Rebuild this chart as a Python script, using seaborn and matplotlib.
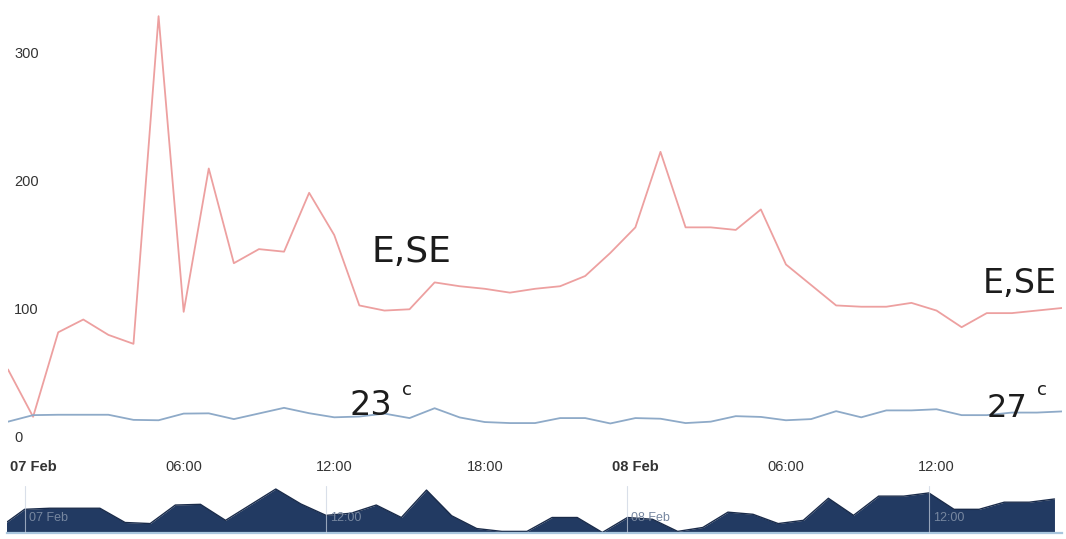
import matplotlib
matplotlib.use("Agg")
import matplotlib.pyplot as plt  # type: ignore
import matplotlib.transforms as mtransforms
import seaborn as sns  # type: ignore
import pandas as pd  # type: ignore

# hours relative to 07 Feb 00:00 (06 Feb 23:00 -> 08 Feb 17:00)
hours = list(range(-1, 42))

wind_direction = [52, 15, 81, 91, 79, 72, 328, 97, 209, 135, 146, 144, 190, 157,
                  102, 98, 99, 120, 117, 115, 112, 115, 117, 125, 143, 163, 222,
                  163, 163, 161, 177, 134, 118, 102, 101, 101, 104, 98, 85, 96,
                  96, 98, 100]

temperature = [11.2, 16.3, 16.6, 16.6, 16.6, 12.6, 12.3, 17.5, 17.7, 13.2, 17.6,
               22.0, 17.8, 14.6, 15.2, 17.5, 14.0, 21.7, 14.5, 10.9, 10.1, 10.1,
               14.0, 14.0, 9.8, 14.0, 13.5, 10.1, 11.2, 15.5, 14.9, 12.3, 13.2,
               19.4, 14.6, 20.0, 20.0, 20.9, 16.3, 16.3, 18.3, 18.3, 19.2]

x_ticks = [0, 6, 12, 18, 24, 30, 36]
x_labels = ["07 Feb", "06:00", "12:00", "18:00", "08 Feb", "06:00", "12:00"]
y_ticks = [0, 100, 200, 300]

nav_ticks = [0, 12, 24, 36]
nav_labels = ["07 Feb", "12:00", "08 Feb", "12:00"]

df = pd.DataFrame({"hour": hours, "wind": wind_direction, "temp": temperature})

sns.set_theme(style="white")
plt.rcParams["font.family"] = ["Liberation Sans", "DejaVu Sans"]

W, H = 1066, 539
fig = plt.figure(figsize=(W / 100, H / 100), dpi=100, facecolor="white")

# ---------------- main chart ----------------
ax = fig.add_axes([8 / W, 1 - 436 / H, (1062 - 8) / W, 436 / H])
sns.lineplot(data=df, x="hour", y="wind", ax=ax, color="#eda0a0", linewidth=1.3)
sns.lineplot(data=df, x="hour", y="temp", ax=ax, color="#8eaac8", linewidth=1.3)
ax.set_xlim(-1, 41)
ax.set_ylim(0, 436 / 1.28)
ax.set_xlabel("")
ax.set_ylabel("")
for s in ax.spines.values():
    s.set_visible(False)

ax.set_yticks(y_ticks)
ax.set_yticklabels([str(v) for v in y_ticks])
ax.tick_params(axis="y", length=0, pad=-4.5, labelsize=10.5, labelcolor="#333333")
for lab in ax.get_yticklabels():
    lab.set_ha("left")

ax.set_xticks(x_ticks)
ax.set_xticklabels(x_labels)
ax.tick_params(axis="x", length=0, pad=17, labelsize=10.5, labelcolor="#333333")
for lab in ax.get_xticklabels():
    if "Feb" in lab.get_text():
        lab.set_fontweight("bold")

# handwritten notes on the printout
hand = dict(color="#1c1c1c", family="DejaVu Sans", va="baseline", ha="left")
ax.text(13.5, 136, "E,SE", fontsize=26, **hand)
ax.text(37.85, 112, "E,SE", fontsize=24, **hand)
ax.text(12.6, 16.5, "23", fontsize=24, **hand)
ax.text(14.7, 32, "c", fontsize=13, **hand)
ax.text(38.0, 15.0, "27", fontsize=23, **hand)
ax.text(40.0, 32, "c", fontsize=13, **hand)

# ---------------- navigator ----------------
nav = fig.add_axes([7 / W, 1 - 533 / H, 1055 / W, 47 / H])
lo = min(temperature) - 0.15
hi = max(temperature) + 0.85
nav.fill_between(hours, temperature, lo, color="#223a62", linewidth=0, zorder=1)
sns.lineplot(data=df, x="hour", y="temp", ax=nav, color="#1a2b4a", linewidth=1.0)
nav.set_xlim(-0.7, 41.3)
nav.set_ylim(lo, hi)
nav.set_xlabel("")
nav.set_ylabel("")
nav.set_yticks([])
nav.set_xticks(nav_ticks)
nav.set_xticklabels(nav_labels)
nav.set_axisbelow(False)
nav.grid(axis="x", color="#c9d2e0", linewidth=0.8, alpha=0.7)
nav.tick_params(axis="x", length=0, pad=-15, labelsize=9, labelcolor="#7787a0")
offset = mtransforms.ScaledTranslation(4 / 100, 0, fig.dpi_scale_trans)
for lab in nav.get_xticklabels():
    lab.set_ha("left")
    lab.set_transform(lab.get_transform() + offset)
for name, s in nav.spines.items():
    s.set_visible(name == "bottom")
nav.spines["bottom"].set_color("#a9c6de")
nav.spines["bottom"].set_linewidth(1.6)

fig.savefig("out.png", dpi=100, facecolor="white")
